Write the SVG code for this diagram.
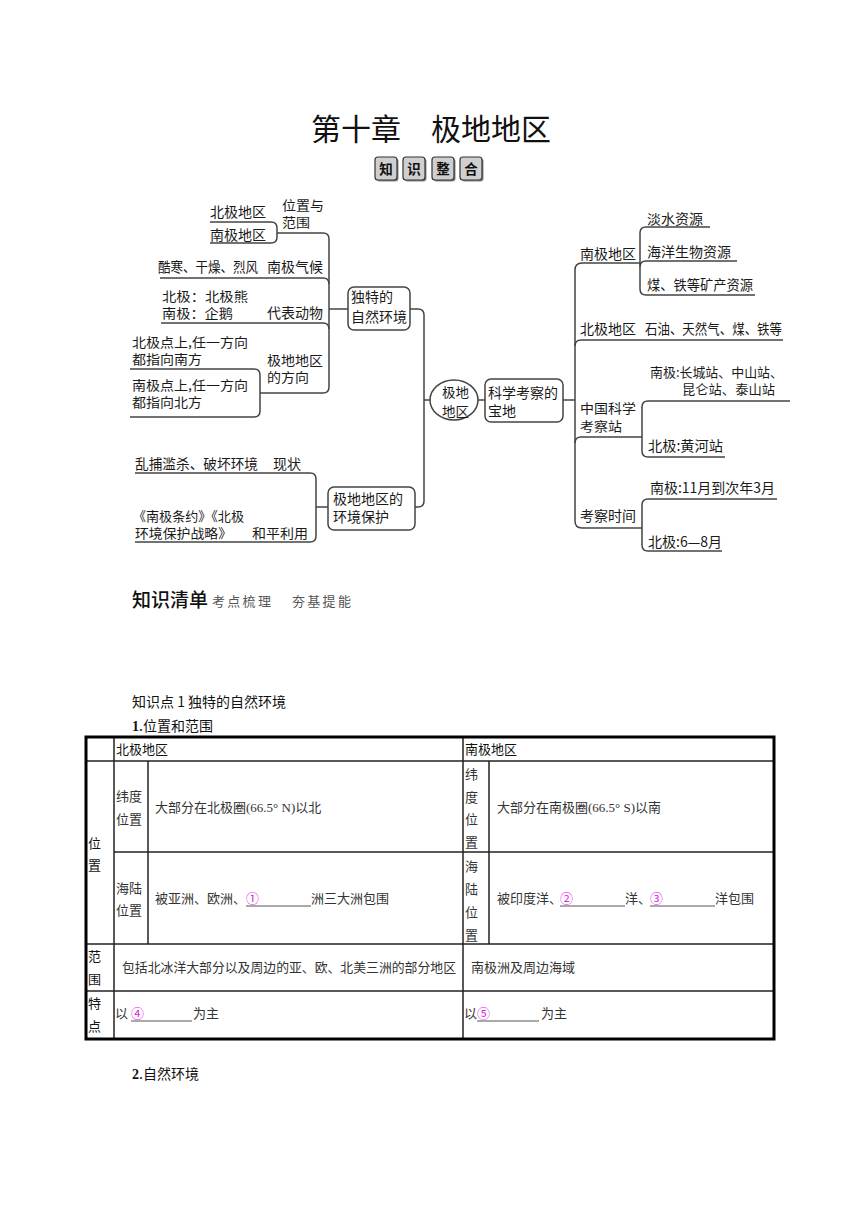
<svg xmlns="http://www.w3.org/2000/svg" width="860" height="1216" viewBox="0 0 860 1216">
<defs>
<style>
text{font-family:"Noto Sans CJK SC","Liberation Sans",sans-serif;fill:#1a1a1a}
.t{font-size:30px;fill:#111}
.badge{fill:#cfcfcf;stroke:#333;stroke-width:1.2}
.bshadow{fill:#888}
.bt{font-size:13.5px;font-weight:700;text-anchor:middle;fill:#111}
.m{font-size:14px}
.s{font-size:13px}
.box{fill:#fff;stroke:#444;stroke-width:1.5}
.c{fill:none;stroke:#444;stroke-width:1.5}
.h1{font-size:19px;font-weight:500;fill:#111}
.h2{font-size:13px;fill:#555;letter-spacing:2.3px}
.p{font-size:14px;fill:#111}
.tb{font-size:13px;fill:#111}
.tc{font-size:13px;fill:#333;font-family:"Liberation Serif","Noto Sans CJK SC",serif}
.mg{fill:#e020e0;font-size:13px}
.ul{stroke:#555;stroke-width:1}
.outer{fill:none;stroke:#000;stroke-width:3}
.grid{stroke:#222;stroke-width:1.5}
</style>
</defs>
<rect width="860" height="1216" fill="#fff"/>

<g id="title">
<text class="t" x="431" y="140" text-anchor="middle">第十章　极地地区</text>
</g>

<g id="badges">
<rect class="bshadow" x="376.5" y="158.5" width="22" height="23" rx="3"/>
<rect class="badge" x="375" y="157" width="22" height="23" rx="3"/>
<text class="bt" x="386" y="174">知</text>
<rect class="bshadow" x="404.5" y="158.5" width="22" height="23" rx="3"/>
<rect class="badge" x="403" y="157" width="22" height="23" rx="3"/>
<text class="bt" x="414" y="174">识</text>
<rect class="bshadow" x="433.5" y="158.5" width="22" height="23" rx="3"/>
<rect class="badge" x="432" y="157" width="22" height="23" rx="3"/>
<text class="bt" x="443" y="174">整</text>
<rect class="bshadow" x="461.5" y="158.5" width="22" height="23" rx="3"/>
<rect class="badge" x="460" y="157" width="22" height="23" rx="3"/>
<text class="bt" x="471" y="174">合</text>
</g>

<g id="connectors">
<path class="c" d="M210,222 H271 Q277,222 277,228 V237 Q277,243 271,243 H210"/>
<path class="c" d="M277,233 H323 Q329,233 329,239 V387 Q329,393 323,393 H260"/>
<path class="c" d="M160,278 H323 Q329,278 329,284"/>
<path class="c" d="M161,323 H323 Q329,323 329,329"/>
<path class="c" d="M329,309 H348"/>
<path class="c" d="M130,369 H254 Q260,369 260,375 V411 Q260,417 254,417 H130"/>
<path class="c" d="M410,309 H418 Q424,309 424,315 V501 Q424,507 418,507 H415"/>
<path class="c" d="M424,400 H430"/>
<path class="c" d="M135,473 H310 Q316,473 316,479 V536 Q316,542 310,542 H135"/>
<path class="c" d="M316,507 H328"/>
<path class="c" d="M478,400 H485"/>
<path class="c" d="M563,400 H575"/>
<path class="c" d="M640,263 H582 Q575,263 575,270 V521 Q575,528 582,528 H642"/>
<path class="c" d="M575,346 Q575,340 581,340 H783"/>
<path class="c" d="M575,443 Q575,437 581,437 H642"/>
<path class="c" d="M710,227 H646 Q640,227 640,233 V289 Q640,295 646,295 H755"/>
<path class="c" d="M640,267 Q640,261 646,261 H737"/>
<path class="c" d="M790,401 H648 Q642,401 642,407 V451 Q642,457 648,457 H725"/>
<path class="c" d="M777,499 H648 Q642,499 642,505 V545 Q642,551 648,551 H722"/>
</g>

<g id="node-center">
<ellipse class="box" cx="454" cy="400" rx="24" ry="20"/>
<text class="s" x="442" y="397" textLength="27" lengthAdjust="spacingAndGlyphs">极地</text>
<text class="s" x="442" y="416" textLength="27" lengthAdjust="spacingAndGlyphs">地区</text>
</g>

<g id="node-ziran">
<rect class="box" x="348" y="287" width="62" height="43" rx="6"/>
<text class="m" x="351" y="302">独特的</text>
<text class="m" x="351" y="322">自然环境</text>
</g>

<g id="node-baohu">
<rect class="box" x="328" y="487" width="87" height="43" rx="6"/>
<text class="m" x="333" y="504">极地地区的</text>
<text class="m" x="333" y="522">环境保护</text>
</g>

<g id="node-kexue">
<rect class="box" x="485" y="379" width="78" height="43" rx="6"/>
<text class="m" x="488" y="398">科学考察的</text>
<text class="m" x="488" y="416">宝地</text>
</g>

<g id="node-weizhi">
<text class="m" x="210" y="217">北极地区</text>
<text class="m" x="210" y="240">南极地区</text>
<text class="s" x="282" y="210" textLength="42" lengthAdjust="spacingAndGlyphs">位置与</text>
<text class="s" x="282" y="227" textLength="28" lengthAdjust="spacingAndGlyphs">范围</text>
</g>

<g id="node-qihou">
<text class="m" x="158" y="272" textLength="100" lengthAdjust="spacingAndGlyphs">酷寒、干燥、烈风</text>
<text class="m" x="267" y="272">南极气候</text>
</g>

<g id="node-dongwu">
<text class="s" x="162" y="301" textLength="86" lengthAdjust="spacingAndGlyphs">北极：北极熊</text>
<text class="s" x="162" y="318" textLength="71" lengthAdjust="spacingAndGlyphs">南极：企鹅</text>
<text class="m" x="267" y="318">代表动物</text>
</g>

<g id="node-fangxiang">
<text class="s" x="132" y="347" textLength="116" lengthAdjust="spacingAndGlyphs">北极点上,任一方向</text>
<text class="s" x="132" y="364" textLength="70" lengthAdjust="spacingAndGlyphs">都指向南方</text>
<text class="s" x="132" y="390" textLength="116" lengthAdjust="spacingAndGlyphs">南极点上,任一方向</text>
<text class="s" x="132" y="407" textLength="70" lengthAdjust="spacingAndGlyphs">都指向北方</text>
<text class="s" x="267" y="365" textLength="56" lengthAdjust="spacingAndGlyphs">极地地区</text>
<text class="s" x="267" y="382" textLength="42" lengthAdjust="spacingAndGlyphs">的方向</text>
</g>

<g id="node-xianzhuang">
<text class="m" x="135" y="469" textLength="123" lengthAdjust="spacingAndGlyphs">乱捕滥杀、破坏环境</text>
<text class="m" x="273" y="469">现状</text>
</g>

<g id="node-heping">
<text class="s" x="133" y="521" textLength="111" lengthAdjust="spacingAndGlyphs">《南极条约》《北极</text>
<text class="s" x="135" y="538" textLength="97" lengthAdjust="spacingAndGlyphs">环境保护战略》</text>
<text class="s" x="252" y="538" textLength="56" lengthAdjust="spacingAndGlyphs">和平利用</text>
</g>

<g id="node-nanji-res">
<text class="m" x="580" y="259">南极地区</text>
<text class="m" x="647" y="224">淡水资源</text>
<text class="m" x="647" y="257">海洋生物资源</text>
<text class="m" x="647" y="290" textLength="106" lengthAdjust="spacingAndGlyphs">煤、铁等矿产资源</text>
</g>

<g id="node-beiji-res">
<text class="m" x="580" y="334">北极地区</text>
<text class="m" x="645" y="334" textLength="137" lengthAdjust="spacingAndGlyphs">石油、天然气、煤、铁等</text>
</g>

<g id="node-zhan">
<text class="s" x="580" y="413" textLength="56" lengthAdjust="spacingAndGlyphs">中国科学</text>
<text class="s" x="580" y="431" textLength="42" lengthAdjust="spacingAndGlyphs">考察站</text>
<text class="s" x="650" y="377" textLength="133" lengthAdjust="spacingAndGlyphs">南极:长城站、中山站、</text>
<text class="s" x="682" y="394" textLength="93" lengthAdjust="spacingAndGlyphs">昆仑站、泰山站</text>
<text class="m" x="648" y="451" textLength="75" lengthAdjust="spacingAndGlyphs">北极:黄河站</text>
</g>

<g id="node-shijian">
<text class="m" x="580" y="521">考察时间</text>
<text class="m" x="650" y="493" textLength="125" lengthAdjust="spacingAndGlyphs">南极:11月到次年3月</text>
<text class="m" x="648" y="547" textLength="74" lengthAdjust="spacingAndGlyphs">北极:6—8月</text>
</g>

<g id="section">
<text class="h1" x="132" y="607">知识清单</text>
<text class="h2" x="212" y="606">考点梳理</text>
<text class="h2" x="292" y="606">夯基提能</text>
<text class="p" x="132" y="707">知识点 1 独特的自然环境</text>
<text class="p" x="132" y="731"><tspan font-weight="700" font-family="Liberation Serif,serif">1</tspan>.位置和范围</text>
<text class="p" x="132" y="1079"><tspan font-weight="700" font-family="Liberation Serif,serif">2</tspan>.自然环境</text>
</g>

<g id="table">
<line class="grid" x1="114" y1="737" x2="114" y2="1039"/>
<line class="grid" x1="463" y1="737" x2="463" y2="1039"/>
<line class="grid" x1="148" y1="761" x2="148" y2="944"/>
<line class="grid" x1="489" y1="761" x2="489" y2="944"/>
<line class="grid" x1="86" y1="761" x2="774" y2="761"/>
<line class="grid" x1="114" y1="852" x2="774" y2="852"/>
<line class="grid" x1="86" y1="944" x2="774" y2="944"/>
<line class="grid" x1="86" y1="991" x2="774" y2="991"/>
<rect class="outer" x="86" y="737" width="688" height="302"/>

<text class="tb" x="116" y="754">北极地区</text>
<text class="tb" x="465" y="754">南极地区</text>
<text class="tb" x="88" y="848">位</text>
<text class="tb" x="88" y="870">置</text>

<text class="tc" x="116" y="801">纬度</text>
<text class="tc" x="116" y="824">位置</text>
<text class="tc" x="155" y="812">大部分在北极圈(66.5°  N)以北</text>
<text class="tc" x="116" y="893">海陆</text>
<text class="tc" x="116" y="915">位置</text>
<text class="tc" x="155" y="903">被亚洲、欧洲、</text>
<text class="mg" x="246" y="903">①</text>
<line class="ul" x1="246" y1="906" x2="311" y2="906"/>
<text class="tc" x="311" y="903">洲三大洲包围</text>

<text class="tc" x="465" y="779">纬</text>
<text class="tc" x="465" y="802">度</text>
<text class="tc" x="465" y="824">位</text>
<text class="tc" x="465" y="847">置</text>
<text class="tc" x="497" y="812">大部分在南极圈(66.5°  S)以南</text>
<text class="tc" x="465" y="871">海</text>
<text class="tc" x="465" y="894">陆</text>
<text class="tc" x="465" y="917">位</text>
<text class="tc" x="465" y="940">置</text>
<text class="tc" x="497" y="903">被印度洋、</text>
<text class="mg" x="560" y="903">②</text>
<line class="ul" x1="560" y1="906" x2="625" y2="906"/>
<text class="tc" x="625" y="903">洋、</text>
<text class="mg" x="650" y="903">③</text>
<line class="ul" x1="650" y1="906" x2="715" y2="906"/>
<text class="tc" x="715" y="903">洋包围</text>

<text class="tb" x="88" y="961">范</text>
<text class="tb" x="88" y="984">围</text>
<text class="tc" x="122" y="972" textLength="334" lengthAdjust="spacingAndGlyphs">包括北冰洋大部分以及周边的亚、欧、北美三洲的部分地区</text>
<text class="tc" x="471" y="972">南极洲及周边海域</text>

<text class="tb" x="88" y="1008">特</text>
<text class="tb" x="88" y="1031">点</text>
<text class="tc" x="115" y="1018">以</text>
<text class="mg" x="131" y="1018">④</text>
<line class="ul" x1="131" y1="1021" x2="192" y2="1021"/>
<text class="tc" x="193" y="1018">为主</text>
<text class="tc" x="464" y="1018">以</text>
<text class="mg" x="477" y="1018">⑤</text>
<line class="ul" x1="477" y1="1021" x2="539" y2="1021"/>
<text class="tc" x="541" y="1018">为主</text>
</g>
</svg>
